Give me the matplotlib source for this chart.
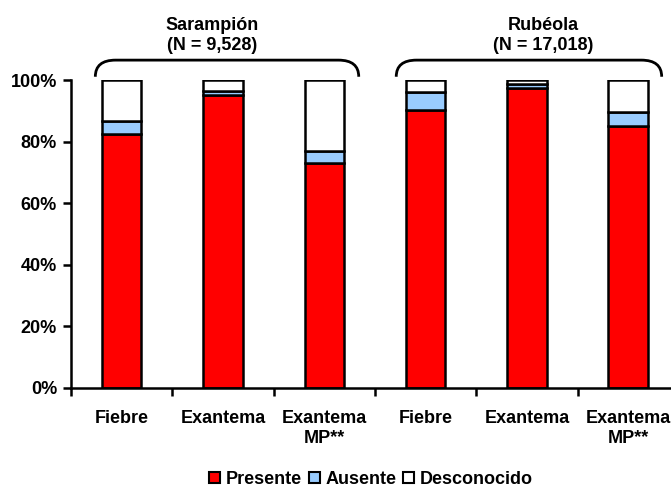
import matplotlib
matplotlib.use("Agg")
import matplotlib.pyplot as plt
from matplotlib.path import Path
from matplotlib.patches import PathPatch, Patch
import numpy as np

plt.rcParams['font.family'] = ['Liberation Sans', 'DejaVu Sans']
plt.rcParams['font.weight'] = 'bold'

# data (percent)
categories = ["Fiebre", "Exantema", "Exantema\nMP**", "Fiebre", "Exantema", "Exantema\nMP**"]
presente = [82.5, 95.1, 73.0, 90.3, 97.3, 85.2]
ausente = [4.2, 1.3, 4.0, 5.8, 1.5, 4.5]
desconocido = [13.3, 3.6, 23.0, 3.9, 1.2, 10.3]
groups = ["Sarampión\n(N = 9,528)", "Rubéola\n(N = 17,018)"]

FS = 13

fig = plt.figure(figsize=(6.71, 4.91), dpi=100)
ax = fig.add_axes([0.1058, 0.2098, 0.906, 0.627])

x = np.arange(len(categories))
w = 0.39
kw = dict(width=w, edgecolor='black', linewidth=1.8)
ax.bar(x, presente, color='#FF0000', label='Presente', **kw)
ax.bar(x, ausente, bottom=presente, color='#99CCFF', label='Ausente', **kw)
ax.bar(x, desconocido, bottom=np.add(presente, ausente), color='white',
       label='Desconocido', **kw)

ax.set_xlim(-0.5, 5.5)
ax.set_ylim(0, 100)
ax.set_yticks(range(0, 101, 20))
ax.set_yticklabels([f"{v}%" for v in range(0, 101, 20)], fontsize=FS, fontweight='bold')

# ticks at category boundaries, labels at centres
ax.set_xticks(np.arange(-0.5, 6, 1))
ax.set_xticklabels([])
ax.set_xticks(x, minor=True)
ax.set_xticklabels(categories, minor=True, fontsize=FS, fontweight='bold',
                   linespacing=1.25)
ax.tick_params(axis='x', which='minor', length=0, pad=16)
ax.tick_params(axis='x', which='major', length=6, width=1.8, direction='out')
ax.tick_params(axis='y', length=6, width=1.8, direction='out', pad=4)

for s in ['top', 'right']:
    ax.spines[s].set_visible(False)
for s in ['left', 'bottom']:
    ax.spines[s].set_linewidth(1.8)

# braces over each group
def brace(x0, x1, ylow, ytop, r):
    verts = [(x0, ylow), (x0, ytop), (x0 + r, ytop), (x1 - r, ytop),
             (x1, ytop), (x1, ylow)]
    codes = [Path.MOVETO, Path.CURVE3, Path.CURVE3, Path.LINETO,
             Path.CURVE3, Path.CURVE3]
    ax.add_patch(PathPatch(Path(verts, codes), fill=False, lw=2.0,
                           edgecolor='black', clip_on=False))

brace(-0.26, 2.34, 101.1, 106.5, 0.2)
brace(2.71, 5.33, 101.1, 106.5, 0.2)

ax.text(0.89, 108.6, groups[0], ha='center', va='bottom', fontsize=FS,
        fontweight='bold', linespacing=1.2)
ax.text(4.16, 108.6, groups[1], ha='center', va='bottom', fontsize=FS,
        fontweight='bold', linespacing=1.2)

handles = [Patch(facecolor='#FF0000', edgecolor='black', lw=1.5, label='Presente'),
           Patch(facecolor='#99CCFF', edgecolor='black', lw=1.5, label='Ausente'),
           Patch(facecolor='white', edgecolor='black', lw=1.5, label='Desconocido')]
fig.legend(handles=handles, loc='center', bbox_to_anchor=(0.553, 0.024), ncol=3,
           frameon=False, handlelength=0.6, handleheight=0.6,
           handletextpad=0.3, columnspacing=0.4, borderpad=0,
           prop={'weight': 'bold', 'size': FS})

fig.savefig("out.png", dpi=100)
